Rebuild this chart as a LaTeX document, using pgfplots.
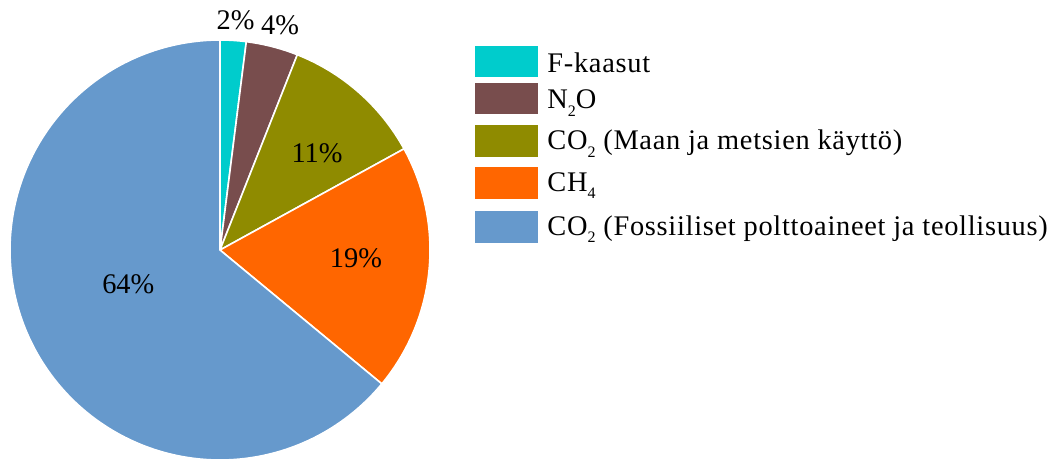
\documentclass[border=0pt]{standalone}
\usepackage{fontspec}
\setmainfont{Liberation Serif}
\newfontfamily\legfont[LetterSpace=2.5]{Liberation Serif}
\usepackage{pgfplots}
\pgfplotsset{compat=1.18}

% Greenhouse gas shares (%)
\def\vF{2}   % F-kaasut
\def\vN{4}   % N2O
\def\vL{11}  % CO2, land use
\def\vM{19}  % CH4
\def\vC{64}  % CO2, fossil fuels and industry

\definecolor{cF}{RGB}{0,204,204}
\definecolor{cN}{RGB}{120,77,77}
\definecolor{cL}{RGB}{143,139,0}
\definecolor{cM}{RGB}{255,102,0}
\definecolor{cC}{RGB}{102,153,204}

% pie centre and radius (axis units)
\def\cx{220}
\def\cy{211}
\def\rr{210}

% chemical subscript
\newcommand\sub[1]{\raisebox{-3.6pt}{\fontsize{8}{8}\selectfont #1}}

\tikzset{
  lbl/.style={font=\fontsize{14.2}{16}\selectfont, inner sep=0pt},
  leg/.style={font=\legfont\fontsize{14.2}{16}\selectfont, inner sep=0pt, anchor=base west},
}

\begin{document}
\fontsize{14.2}{16}\selectfont
\begin{tikzpicture}
\begin{axis}[
  name=ax,
  hide axis,
  x=0.5pt, y=0.5pt,
  xmin=0, xmax=1052, ymin=0, ymax=461,
  clip=false,
  samples=180, variable=\t,
]
% slices, clockwise from 12 o'clock; 1% = 3.6 degrees
\addplot[fill=cF, draw=white, line width=0.8pt, domain={90-3.6*\vF}:{90}]
  ({\cx+\rr*cos(\t)},{\cy+\rr*sin(\t)}) -- (axis cs:\cx,\cy) -- cycle;
\addplot[fill=cN, draw=white, line width=0.8pt, domain={90-3.6*(\vF+\vN)}:{90-3.6*\vF}]
  ({\cx+\rr*cos(\t)},{\cy+\rr*sin(\t)}) -- (axis cs:\cx,\cy) -- cycle;
\addplot[fill=cL, draw=white, line width=0.8pt, domain={90-3.6*(\vF+\vN+\vL)}:{90-3.6*(\vF+\vN)}]
  ({\cx+\rr*cos(\t)},{\cy+\rr*sin(\t)}) -- (axis cs:\cx,\cy) -- cycle;
\addplot[fill=cM, draw=white, line width=0.8pt, domain={90-3.6*(\vF+\vN+\vL+\vM)}:{90-3.6*(\vF+\vN+\vL)}]
  ({\cx+\rr*cos(\t)},{\cy+\rr*sin(\t)}) -- (axis cs:\cx,\cy) -- cycle;
\addplot[fill=cC, draw=white, line width=0.8pt, domain={90-3.6*(\vF+\vN+\vL+\vM+\vC)}:{90-3.6*(\vF+\vN+\vL+\vM)}]
  ({\cx+\rr*cos(\t)},{\cy+\rr*sin(\t)}) -- (axis cs:\cx,\cy) -- cycle;

% slice labels
\node[lbl, anchor=base] at (axis cs:235.5,431.7) {\vF\%};
\node[lbl, anchor=base] at (axis cs:280,426) {\vN\%};
\node[lbl, anchor=base] at (axis cs:317,298.7) {\vL\%};
\node[lbl, anchor=base] at (axis cs:356,193.7) {\vM\%};
\node[lbl, anchor=base] at (axis cs:128.3,167.7) {\vC\%};

% legend
\fill[cF] (axis cs:475,383.7) rectangle (axis cs:538,415);
\fill[cN] (axis cs:475,347) rectangle (axis cs:538,377.7);
\fill[cL] (axis cs:475,304.3) rectangle (axis cs:538,335.7);
\fill[cM] (axis cs:475,262.3) rectangle (axis cs:538,293.7);
\fill[cC] (axis cs:475,218.3) rectangle (axis cs:538,249.7);
\node[leg] at (axis cs:547,388.7) {F-kaasut};
\node[leg] at (axis cs:547,352) {N\sub{2}O};
\node[leg] at (axis cs:547,311) {CO\sub{2} (Maan ja metsien käyttö)};
\node[leg] at (axis cs:547,269.3) {CH\sub{4}};
\node[leg] at (axis cs:547,226) {CO\sub{2} (Fossiiliset polttoaineet ja teollisuus)};
\end{axis}
\pgfresetboundingbox
\path (ax.south west) rectangle (ax.north east);
\end{tikzpicture}
\end{document}
